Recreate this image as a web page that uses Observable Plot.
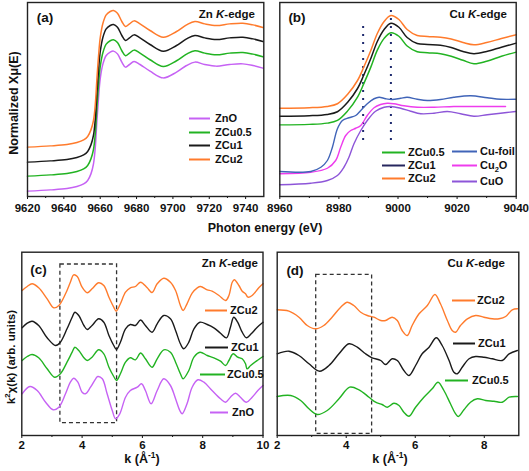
<!DOCTYPE html>
<html><head><meta charset="utf-8">
<script src="https://cdn.jsdelivr.net/npm/d3@7"></script>
<script src="https://cdn.jsdelivr.net/npm/@observablehq/plot@0.6"></script>
<style>
body{margin:0;background:#fff}
#chart{position:relative;width:529px;height:471px;overflow:hidden;background:#fff}
#chart svg{position:absolute}
</style>
</head><body><div id="chart"></div>
<script>
// ---------- (a) Zn K-edge XANES ----------
const aEnergy = [9620, 9632.6, 9641.7, 9647.2, 9650.9, 9653.1, 9654.9, 9656.3, 9657.3, 9658.2, 9659.1, 9660.0, 9661.5, 9663.3, 9665.5, 9667.3, 9669.5, 9671.9, 9673.9, 9676.1, 9678.6, 9681.9, 9687.4, 9694.7, 9702.0, 9707.5, 9712.1, 9717.5, 9723.9, 9731.2, 9738.5, 9744.0, 9749.5];
const aZnO   = [0.011,0.021,0.032,0.048,0.069,0.096,0.149,0.229,0.363,0.576,0.763,0.909,1.029,1.096,1.123,1.131,1.109,1.043,1.003,1.024,1.048,1.024,0.971,0.917,0.963,1.016,1.043,1.024,1.011,1.024,1.029,1.016,0.995];
const aZCu05 = [0.131,0.141,0.152,0.168,0.189,0.216,0.269,0.344,0.473,0.681,0.863,1.004,1.120,1.187,1.214,1.222,1.200,1.134,1.094,1.115,1.139,1.115,1.062,1.008,1.054,1.107,1.134,1.115,1.102,1.115,1.120,1.107,1.086];
const aZCu1  = [0.243,0.253,0.264,0.280,0.301,0.328,0.381,0.458,0.589,0.798,0.981,1.124,1.242,1.309,1.336,1.344,1.322,1.256,1.216,1.237,1.261,1.237,1.184,1.130,1.176,1.229,1.256,1.237,1.224,1.237,1.242,1.229,1.208];
const aZCu2  = [0.363,0.373,0.384,0.400,0.421,0.448,0.501,0.576,0.705,0.913,1.095,1.237,1.354,1.421,1.448,1.456,1.434,1.368,1.328,1.349,1.373,1.349,1.296,1.242,1.288,1.341,1.368,1.349,1.336,1.349,1.354,1.341,1.320];
const aMajorTicks = [9620, 9640, 9660, 9680, 9700, 9720, 9740];
const aMinorTicks = [9630, 9650, 9670, 9690, 9710, 9730];

// ---------- (b) Cu K-edge XANES ----------
const bEnergy = [8960, 8970, 8976, 8979.5, 8982.9, 8986.3, 8988.5, 8990.8, 8993, 8995.3, 8997.6, 9000.3, 9003.1, 9006.5, 9010, 9014.4, 9018, 9022, 9025.7, 9030, 9035, 9040];
const bZCu2  = [0.674,0.678,0.688,0.710,0.784,0.896,1.008,1.136,1.272,1.368,1.416,1.384,1.304,1.256,1.248,1.242,1.228,1.200,1.182,1.200,1.232,1.262];
const bZCu1  = [0.610,0.614,0.624,0.646,0.720,0.832,0.944,1.072,1.208,1.304,1.354,1.322,1.240,1.192,1.184,1.178,1.160,1.128,1.110,1.128,1.162,1.195];
const bZCu05 = [0.541,0.545,0.555,0.577,0.651,0.763,0.875,1.003,1.139,1.233,1.278,1.250,1.172,1.126,1.118,1.110,1.090,1.058,1.030,1.050,1.090,1.123];
const bEnergyFoil = [8960, 8970.5, 8973.9, 8976.1, 8977.8, 8979.5, 8981.2, 8983.4, 8985.7, 8987.4, 8989.6, 8991.9, 8993.6, 8995.8, 8998.1, 9000.9, 9003.1, 9006.5, 9009.9, 9014.4, 9018.9, 9024.6, 9030.2, 9034.7, 9039.8];
const bCuFoil = [0.168,0.168,0.202,0.256,0.362,0.510,0.576,0.598,0.616,0.656,0.710,0.750,0.762,0.750,0.744,0.754,0.762,0.746,0.736,0.744,0.762,0.774,0.758,0.746,0.746];
const bEnergyCu2O = [8960, 8970.5, 8976.1, 8978.9, 8980.6, 8982.3, 8984, 8985.7, 8987.4, 8989.6, 8991.9, 8994.1, 8996.4, 8998.6, 9002, 9006.5, 9012.2, 9018.9, 9025.7, 9032.4, 9036.4];
const bCu2O = [0.150,0.162,0.194,0.256,0.362,0.456,0.496,0.514,0.536,0.616,0.678,0.704,0.714,0.710,0.694,0.682,0.682,0.688,0.688,0.688,0.688];
const bEnergyCuO = [8960, 8970.5, 8976.1, 8979.5, 8981.7, 8983.4, 8985.1, 8987.4, 8989.6, 8992.4, 8995.3, 8997.7, 9000.9, 9004.3, 9007.7, 9012.2, 9016.7, 9021.2, 9025.7, 9030.2, 9034.7, 9039.8];
const bCuO = [0.062,0.074,0.096,0.136,0.202,0.282,0.390,0.496,0.576,0.650,0.682,0.688,0.674,0.650,0.630,0.634,0.648,0.630,0.610,0.622,0.634,0.648];
const bDotEnergy = [8988.2, 8997.6];
const bDotLow = [0.416, 0.416];
const bDotHigh = [1.336, 1.48];
const bMajorTicks = [8960, 8980, 9000, 9020, 9040];
const bMinorTicks = [8970, 8990, 9010, 9030];

// ---------- (c) Zn K-edge EXAFS k^2 chi(k) ----------
const cK_ZCu2 = [2.01,2.18,2.34,2.56,2.84,3.06,3.23,3.45,3.61,3.72,3.84,4.00,4.17,4.33,4.55,4.72,4.89,5.05,5.13,5.27,5.44,5.60,5.77,5.94,6.16,6.32,6.49,6.71,6.93,7.10,7.26,7.35,7.48,7.65,7.82,7.93,8.15,8.31,8.54,8.76,8.87,8.98,9.05,9.20,9.31,9.42,9.50,9.64,9.86,10.0];
const cZCu2 = [7.25,7.45,7.585,7.385,6.835,6.385,6.5,7.085,7.665,8.035,7.95,7.415,7.135,7.335,7.635,7.5,6.915,6.415,6.215,6.585,7.165,7.385,7.45,7.665,7.385,7.15,7.585,7.865,7.665,7.25,6.5,6.25,6.585,7.115,7.385,7.45,7.285,7.215,7.0,6.75,7.0,7.665,7.785,7.5,7.215,7.085,6.915,7.0,7.385,7.585];
const cK_ZCu1 = [2.01,2.18,2.34,2.56,2.84,3.12,3.28,3.50,3.67,3.76,3.89,4.06,4.17,4.33,4.55,4.72,4.89,5.05,5.14,5.27,5.44,5.60,5.77,5.94,6.10,6.32,6.49,6.71,6.93,7.10,7.26,7.37,7.54,7.71,7.91,8.15,8.37,8.59,8.79,8.92,9.03,9.16,9.31,9.45,9.61,9.81,10.0];
const cZCu1 = [5.385,5.615,5.715,5.5,4.885,4.5,4.665,5.335,5.915,6.165,6.0,5.5,5.3,5.5,5.835,5.665,5.0,4.5,4.3,4.665,5.335,5.55,5.5,5.775,5.5,5.165,5.585,6.0,5.835,5.25,4.585,4.335,4.665,5.335,5.665,5.55,5.385,5.115,4.885,5.415,5.915,5.665,5.165,4.885,5.085,5.415,5.665];
const cK_ZCu05 = [2.01,2.18,2.34,2.56,2.84,3.09,3.28,3.50,3.67,3.76,3.89,4.06,4.17,4.33,4.55,4.72,4.89,5.05,5.14,5.27,5.44,5.60,5.77,5.94,6.10,6.32,6.49,6.71,6.93,7.10,7.26,7.35,7.54,7.71,7.91,8.15,8.37,8.59,8.76,8.87,9.01,9.16,9.31,9.42,9.47,9.59,9.81,10.0];
const cZCu05 = [3.75,3.95,4.05,3.885,3.335,2.915,3.085,3.665,4.165,4.415,4.25,3.885,3.75,3.915,4.285,4.085,3.415,2.95,2.75,3.085,3.665,3.885,3.785,4.125,3.835,3.415,3.835,4.285,4.165,3.665,3.085,2.835,3.25,3.915,4.165,4.0,3.885,3.715,3.5,3.75,4.085,3.915,3.835,3.585,3.335,3.5,3.75,3.95];
const cK_ZnO = [2.01,2.27,2.51,2.79,3.04,3.23,3.45,3.61,3.72,3.86,4.00,4.11,4.28,4.45,4.52,4.67,4.83,5.00,5.11,5.25,5.44,5.60,5.83,5.97,6.10,6.29,6.49,6.71,6.93,7.10,7.24,7.32,7.48,7.65,7.84,8.04,8.31,8.59,8.76,8.92,9.09,9.25,9.45,9.64,9.83,10.0];
const cZnO = [2.085,2.45,2.25,1.665,1.285,1.415,2.085,2.665,2.865,2.665,2.165,2.085,2.415,2.835,2.95,2.835,2.085,1.25,0.835,1.085,1.915,2.25,2.415,2.585,2.25,1.585,2.25,2.835,2.5,1.835,1.25,1.085,1.585,2.415,2.785,2.665,2.25,1.835,1.665,1.915,2.115,1.915,1.665,1.915,2.25,2.5];
const cBoxK = [3.28, 5.16];
const cBoxV = [0.615, 8.55];
const cMajorTicks = [2, 4, 6, 8, 10];
const cMinorTicks = [3, 5, 7, 9];

// ---------- (d) Cu K-edge EXAFS k^2 chi(k) ----------
const dK_ZCu2 = [2.0,2.34,2.63,2.87,3.11,3.35,3.59,3.84,4.03,4.22,4.42,4.61,4.80,5.0,5.14,5.33,5.48,5.62,5.77,5.91,6.11,6.35,6.57,6.73,6.93,7.07,7.17,7.31,7.51,7.75,7.99,8.23,8.43,8.62,8.81,8.96];
const dZCu2 = [6.285,6.215,5.915,5.5,5.335,5.5,5.915,6.415,6.665,6.5,6.165,6.0,5.915,5.75,5.75,5.915,5.75,5.25,5.0,5.5,6.085,6.5,7.05,6.585,5.75,5.25,5.165,5.5,5.835,6.0,5.915,5.835,5.835,5.95,6.285,6.335];
const dK_ZCu1 = [2.0,2.34,2.63,2.92,3.23,3.50,3.79,4.08,4.32,4.56,4.75,5.0,5.14,5.33,5.48,5.67,5.82,6.01,6.20,6.40,6.61,6.78,6.98,7.12,7.22,7.36,7.56,7.75,7.99,8.23,8.52,8.72,8.96];
const dZCu1 = [4.085,4.215,4.0,3.585,3.215,3.5,4.085,4.585,4.415,4.085,3.885,3.75,3.55,3.835,3.75,3.25,3.0,3.5,4.085,4.415,4.885,4.5,3.75,3.165,3.085,3.415,3.835,3.95,3.915,3.835,3.75,4.085,4.25];
const dK_ZCu05 = [2.0,2.39,2.68,2.92,3.16,3.45,3.79,4.10,4.37,4.66,4.85,5.04,5.19,5.38,5.53,5.67,5.82,6.01,6.25,6.49,6.66,6.83,7.02,7.17,7.25,7.41,7.60,7.80,8.04,8.28,8.52,8.72,8.96];
const dZCu05 = [1.95,2.0,1.75,1.335,1.05,1.25,1.835,2.415,2.285,1.915,1.665,1.55,1.415,1.615,1.5,1.165,0.965,1.415,1.915,2.335,2.665,2.25,1.585,1.085,0.95,1.285,1.665,1.835,1.75,1.715,1.665,1.915,1.95];
const dBoxK = [3.13, 4.75];
const dBoxV = [0.08, 8.035];
const dMajorTicks = [2, 4, 6, 8];
const dMinorTicks = [3, 5, 7];

// ---------- styling ----------
const FONT = '"Liberation Sans", Arial, Helvetica, sans-serif';
const C = {orange: "#ff7b2c", green: "#22b322", black: "#1a1a1a", navy: "#26265e",
           violet: "#c662f4", foil: "#4064b8", cu2o: "#ee3ced", cuo: "#8d55d8", dots: "#1e2a6e", box: "#333"};

const chart = document.getElementById("chart");

function xAxisMarks(majors, minors, pad) {
  return [
    Plot.axisX({ticks: majors, tickFormat: d => String(d), tickSize: 3, tickPadding: pad, label: null}),
    Plot.axisX({ticks: minors, tickFormat: () => "", tickSize: 2, label: null})
  ];
}

function panel(o) {
  const hasAxisMarks = typeof Plot.axisX === "function";
  const p = Plot.plot({
    width: o.width, height: o.height,
    marginLeft: o.ml, marginRight: o.mr, marginTop: o.mt, marginBottom: o.mb,
    x: hasAxisMarks ? {domain: o.xDomain, label: null}
                    : {domain: o.xDomain, ticks: o.majors, tickFormat: d => String(d), tickSize: 3, tickPadding: o.pad, label: null},
    y: {domain: o.yDomain, axis: null},
    style: {background: "transparent", overflow: "visible", fontFamily: FONT, fontSize: "11.5px", fontWeight: "bold", color: "#111"},
    marks: [
      ...o.marks,
      ...(hasAxisMarks ? xAxisMarks(o.majors, o.minors, o.pad) : []),
      Plot.frame({stroke: "#222", strokeWidth: 1.4})
    ]
  });
  p.style.position = "absolute";
  p.style.left = o.left + "px";
  p.style.top = o.top + "px";
  chart.append(p);
}

const lineOpts = (xs, color, w) => ({x: xs, y: d => d, stroke: color, strokeWidth: w, curve: "catmull-rom"});

// (a)
panel({
  left: 0, top: 0, width: 271, height: 216, ml: 27, mr: 7.7, mt: 2, mb: 20, pad: 4,
  xDomain: [9620, 9750], yDomain: [-0.032, 1.52], majors: aMajorTicks, minors: aMinorTicks,
  marks: [
    Plot.line(aZnO, lineOpts(aEnergy, C.violet, 1.5)),
    Plot.line(aZCu05, lineOpts(aEnergy, C.green, 1.5)),
    Plot.line(aZCu1, lineOpts(aEnergy, C.black, 1.5)),
    Plot.line(aZCu2, lineOpts(aEnergy, C.orange, 1.5))
  ]
});

// (b)
panel({
  left: 271, top: 0, width: 258, height: 216, ml: 8.3, mr: 13.3, mt: 2, mb: 20, pad: 4,
  xDomain: [8960, 9040], yDomain: [-0.032, 1.52], majors: bMajorTicks, minors: bMinorTicks,
  marks: [
    Plot.ruleX(bDotEnergy, {x: d => d, y1: bDotLow, y2: bDotHigh, stroke: C.dots, strokeWidth: 2, strokeDasharray: "2,6"}),
    Plot.line(bCuO, lineOpts(bEnergyCuO, C.cuo, 1.4)),
    Plot.line(bCu2O, lineOpts(bEnergyCu2O, C.cu2o, 1.4)),
    Plot.line(bCuFoil, lineOpts(bEnergyFoil, C.foil, 1.4)),
    Plot.line(bZCu05, lineOpts(bEnergy, C.green, 1.5)),
    Plot.line(bZCu1, lineOpts(bEnergy, C.black, 1.5)),
    Plot.line(bZCu2, lineOpts(bEnergy, C.orange, 1.5))
  ]
});

// (c)
panel({
  left: 0, top: 240, width: 271, height: 231, ml: 21.3, mr: 8.5, mt: 11.7, mb: 36, pad: 2.5,
  xDomain: [2, 10], yDomain: [0, 9.165], majors: cMajorTicks, minors: cMinorTicks,
  marks: [
    Plot.rect([0], {x1: [cBoxK[0]], x2: [cBoxK[1]], y1: [cBoxV[0]], y2: [cBoxV[1]], fill: "none", stroke: C.box, strokeWidth: 1.3, strokeDasharray: "4,3"}),
    Plot.line(cZnO, lineOpts(cK_ZnO, C.violet, 1.4)),
    Plot.line(cZCu05, lineOpts(cK_ZCu05, C.green, 1.4)),
    Plot.line(cZCu1, lineOpts(cK_ZCu1, C.black, 1.4)),
    Plot.line(cZCu2, lineOpts(cK_ZCu2, C.orange, 1.4))
  ]
});

// (d)
panel({
  left: 271, top: 240, width: 258, height: 231, ml: 5.7, mr: 10.7, mt: 11.7, mb: 36, pad: 2.5,
  xDomain: [2, 9], yDomain: [0, 9.165], majors: dMajorTicks, minors: dMinorTicks,
  marks: [
    Plot.rect([0], {x1: [dBoxK[0]], x2: [dBoxK[1]], y1: [dBoxV[0]], y2: [dBoxV[1]], fill: "none", stroke: C.box, strokeWidth: 1.3, strokeDasharray: "4,3"}),
    Plot.line(dZCu05, lineOpts(dK_ZCu05, C.green, 1.4)),
    Plot.line(dZCu1, lineOpts(dK_ZCu1, C.black, 1.4)),
    Plot.line(dZCu2, lineOpts(dK_ZCu2, C.orange, 1.4))
  ]
});

// ---------- overlay: panel letters, edge labels, axis titles, legends ----------
const ov = d3.select(chart).append("svg")
  .attr("width", 529).attr("height", 471)
  .style("left", "0px").style("top", "0px").style("overflow", "visible")
  .attr("font-family", FONT).attr("font-weight", "bold").attr("fill", "#111");

function label(x, y, parts, {size = 11, anchor = "start", rotate = 0, dy = null} = {}) {
  const t = ov.append("text").attr("font-size", size).attr("text-anchor", anchor)
    .attr("transform", `translate(${x},${y}) rotate(${rotate})`);
  if (dy) t.attr("dy", dy);
  let shift = 0;
  for (const p of parts) {
    const q = typeof p === "string" ? {t: p} : p;
    const s = t.append("tspan").text(q.t);
    let target = 0;
    if (q.sup) { target = -size * 0.42; s.attr("font-size", size * 0.68); }
    if (q.sub) { target = size * 0.25; s.attr("font-size", size * 0.68); }
    if (target !== shift) { s.attr("dy", target - shift); shift = target; }
    if (q.italic) s.attr("font-style", "italic");
  }
  return t;
}

function legend(items) {
  for (const it of items) {
    ov.append("line").attr("x1", it.x1).attr("x2", it.x2).attr("y1", it.y + 0.5).attr("y2", it.y + 0.5)
      .attr("stroke", it.color).attr("stroke-width", 2);
    label(it.tx, it.y, it.parts, {size: 11, dy: "0.36em"});
  }
}

const Kit = {t: "K", italic: true};
label(45, 22, ["(a)"], {size: 13.5, anchor: "middle"});
label(255, 18, ["Zn ", Kit, "-edge"], {size: 11.5, anchor: "end"});
label(297, 22, ["(b)"], {size: 13.5, anchor: "middle"});
label(507, 18, ["Cu ", Kit, "-edge"], {size: 11.5, anchor: "end"});
label(265, 232, ["Photon energy (eV)"], {size: 12.5, anchor: "middle"});
label(17.5, 103, ["Normalized Xμ(E)"], {size: 12.5, anchor: "middle", rotate: -90});

label(38.5, 274, ["(c)"], {size: 13.5, anchor: "middle"});
label(258, 267, ["Zn ", Kit, "-edge"], {size: 11.5, anchor: "end"});
label(295, 275, ["(d)"], {size: 13.5, anchor: "middle"});
label(505, 267, ["Cu ", Kit, "-edge"], {size: 11.5, anchor: "end"});
label(142, 463, ["k (Å", {t: "-1", sup: true}, ")"], {size: 12.5, anchor: "middle"});
label(390, 463, ["k (Å", {t: "-1", sup: true}, ")"], {size: 12.5, anchor: "middle"});
label(15, 357, ["k", {t: "2", sup: true}, "χ(k) (arb. units)"], {size: 11.5, anchor: "middle", rotate: -90});

legend([
  {x1: 189, x2: 210, tx: 215, y: 118, color: C.violet, parts: ["ZnO"]},
  {x1: 189, x2: 210, tx: 215, y: 132, color: C.green, parts: ["ZCu0.5"]},
  {x1: 189, x2: 210, tx: 215, y: 145, color: C.black, parts: ["ZCu1"]},
  {x1: 189, x2: 210, tx: 215, y: 159, color: C.orange, parts: ["ZCu2"]},

  {x1: 382, x2: 405, tx: 408, y: 152, color: C.green, parts: ["ZCu0.5"]},
  {x1: 382, x2: 405, tx: 408, y: 165, color: C.navy, parts: ["ZCu1"]},
  {x1: 382, x2: 405, tx: 408, y: 178, color: C.orange, parts: ["ZCu2"]},
  {x1: 452, x2: 477, tx: 480, y: 151, color: C.foil, parts: ["Cu-foil"]},
  {x1: 452, x2: 477, tx: 480, y: 165, color: C.cu2o, parts: ["Cu", {t: "2", sub: true}, "O"]},
  {x1: 452, x2: 477, tx: 480, y: 181, color: C.cuo, parts: ["CuO"]},

  {x1: 205, x2: 227, tx: 230, y: 310, color: C.orange, parts: ["ZCu2"]},
  {x1: 205, x2: 228, tx: 231, y: 347, color: C.black, parts: ["ZCu1"]},
  {x1: 200, x2: 225, tx: 227, y: 374, color: C.green, parts: ["ZCu0.5"]},
  {x1: 210, x2: 228, tx: 232, y: 412, color: C.violet, parts: ["ZnO"]},

  {x1: 452, x2: 475, tx: 477, y: 300, color: C.orange, parts: ["ZCu2"]},
  {x1: 453, x2: 475, tx: 478, y: 343, color: C.black, parts: ["ZCu1"]},
  {x1: 445, x2: 468, tx: 472, y: 380, color: C.green, parts: ["ZCu0.5"]}
]);
</script>
</body></html>
